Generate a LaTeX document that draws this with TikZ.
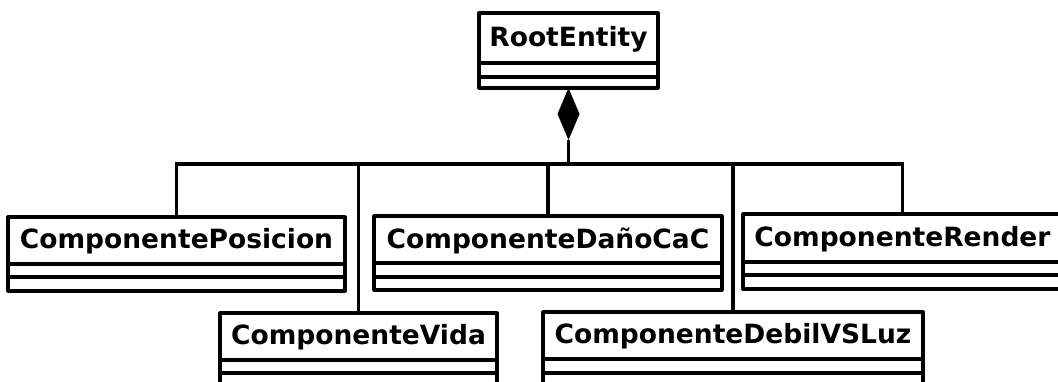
\documentclass[tikz,border=0pt]{standalone}
\usepackage{fontspec}
\setmainfont{DejaVu Sans}
\usetikzlibrary{calc}
\tikzset{
  cls/.style={draw, line width=3.2pt, inner sep=0pt, outer sep=0pt, line join=round},
  sep/.style={line width=3.2pt},
  lbl/.style={font=\fontsize{26.5}{30}\selectfont\bfseries, inner sep=0pt},
  conn/.style={line width=3.2pt},
}
\newcommand\umlcls[8]{%
  \node[cls, minimum width={#4pt-#2pt}, minimum height={#5pt-#3pt}] (#1) at ({(#2+#4)/2},{(#3+#5)/2}) {};
  \draw[sep] (#2,#6) -- (#4,#6);
  \draw[sep] (#2,#7) -- (#4,#7);
  \node[lbl] (#1-t) at ({(#2+#4)/2},{(#3+#6)/2+1}) {#8};
}
\begin{document}
\begin{tikzpicture}[x=1pt,y=-1pt]
\useasboundingbox (0,0) rectangle (1058,381);
\fill[white] (0,0) rectangle (1058,381);
\umlcls{root}{479}{13}{658}{88}{63}{77}{RootEntity}
\umlcls{pos}{8}{217}{345}{291}{264}{277}{ComponentePosicion}
\umlcls{dano}{374}{216}{722}{290}{263}{277}{ComponenteDañoCaC}
\umlcls{render}{743}{214}{1062}{289}{262}{275}{ComponenteRender}
\umlcls{vida}{220}{313}{497}{400}{360}{373}{ComponenteVida}
\umlcls{debil}{543}{312}{923}{400}{359}{373}{ComponenteDebilVSLuz}
% composition diamond
\coordinate (dtop) at (root.south);
\coordinate (dbot) at ($(root.south)+(0,52)$);
\fill (dtop) -- ++(-11,26) -- (dbot) -- ++(11,-26) -- cycle;
\coordinate (bus) at (0,164);
\draw[conn] (dbot) -- (dbot |- bus);
\draw[conn] (pos.north) |- (bus -| render.north) -- (render.north);
\draw[conn] (dano.north) -- (dano.north |- bus);
\draw[conn] (vida.north) -- (vida.north |- bus);
\draw[conn] (debil.north) -- (debil.north |- bus);
\end{tikzpicture}
\end{document}
